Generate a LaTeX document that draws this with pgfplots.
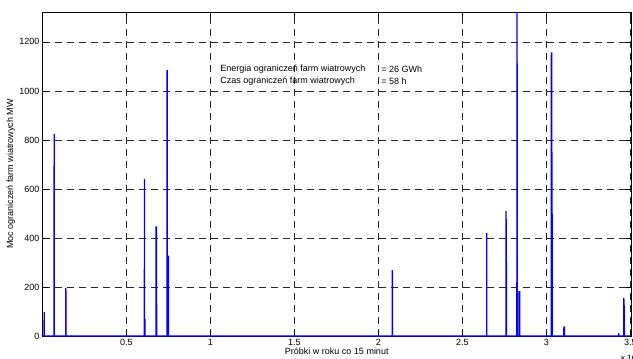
\documentclass[border=0pt]{standalone}
\usepackage{pgfplots}
\pgfplotsset{compat=1.18}
\usepackage{fontspec}
\setmainfont{Liberation Sans}
\begin{document}
\fontsize{9}{10.5}\selectfont
\begin{tikzpicture}
\begin{axis}[name=ax, scale only axis, width=588.5pt, height=324pt,
  xmin=0, xmax=35040, ymin=0, ymax=1322,
  xtick={5000,10000,...,35000}, xticklabels={0.5,1,1.5,2,2.5,3,3.5},
  ytick={0,200,...,1200},
  scaled x ticks=false,
  tick align=inside, major tick length=5pt, xtick pos=both, ytick pos=both,
  grid=major,
  major grid style={black!85, dash pattern=on 7pt off 5pt, line width=0.7pt},
  axis line style={black, line width=0.8pt},
  tick style={black, line width=0.7pt},
  ticklabel style={font=\fontsize{9}{10.5}\selectfont},
  /pgf/number format/assume math mode=true,
  /pgf/number format/1000 sep={},
  xlabel={Próbki w roku co 15 minut},
  xlabel style={yshift=4pt},
  ylabel={Moc ograniczeń farm wiatrowych MW},
  ylabel style={yshift=-2pt},
  label style={font=\fontsize{9}{10.5}\selectfont},
  clip=false,
]
\addplot[blue, line width=1.3pt] coordinates {
(0,0)
(95,0)(100,98)(105,0)
(685,0)(690,690)(695,690)(700,825)(705,0)
(1385,0)(1390,196)(1395,0)
(6065,0)(6070,641)(6075,0)(6095,0)(6100,70)(6105,0)
(6755,0)(6760,445)(6790,445)(6795,0)
(7415,0)(7420,1086)(7425,0)(7475,0)(7480,325)(7500,325)(7505,0)
(20825,0)(20830,269)(20835,0)
(26445,0)(26450,420)(26455,0)
(27595,0)(27600,510)(27620,278)(27625,0)
(28245,0)(28250,1322)(28260,1050)(28265,0)(28370,0)(28375,180)(28410,180)(28415,0)
(30295,0)(30300,1155)(30320,1155)(30330,555)(30345,482)(30350,0)
(31040,0)(31045,37)(31075,37)(31080,0)
(34305,0)(34310,12)(34315,0)
(34605,0)(34610,155)(34640,106)(34645,0)
(35040,0)
};
\node[anchor=west, inner sep=0pt] at (axis cs:10580,1090) {Energia ograniczeń farm wiatrowych};
\node[anchor=west, inner sep=0pt] at (axis cs:20160,1090) {= 26 GWh};
\node[anchor=west, inner sep=0pt] at (axis cs:10580,1041) {Czas ograniczeń farm wiatrowych};
\node[anchor=west, inner sep=0pt] at (axis cs:20160,1041) {= 58 h};
\end{axis}
\node[anchor=north west, inner sep=0pt] at ([xshift=-11pt,yshift=-17pt]ax.south east) {×\,10\textsuperscript{4}};
\pgfresetboundingbox
\path[use as bounding box] ([xshift=-42.5pt,yshift=-22pt]ax.south west) rectangle ([xshift=2pt,yshift=12pt]ax.north east);
\end{tikzpicture}
\end{document}
